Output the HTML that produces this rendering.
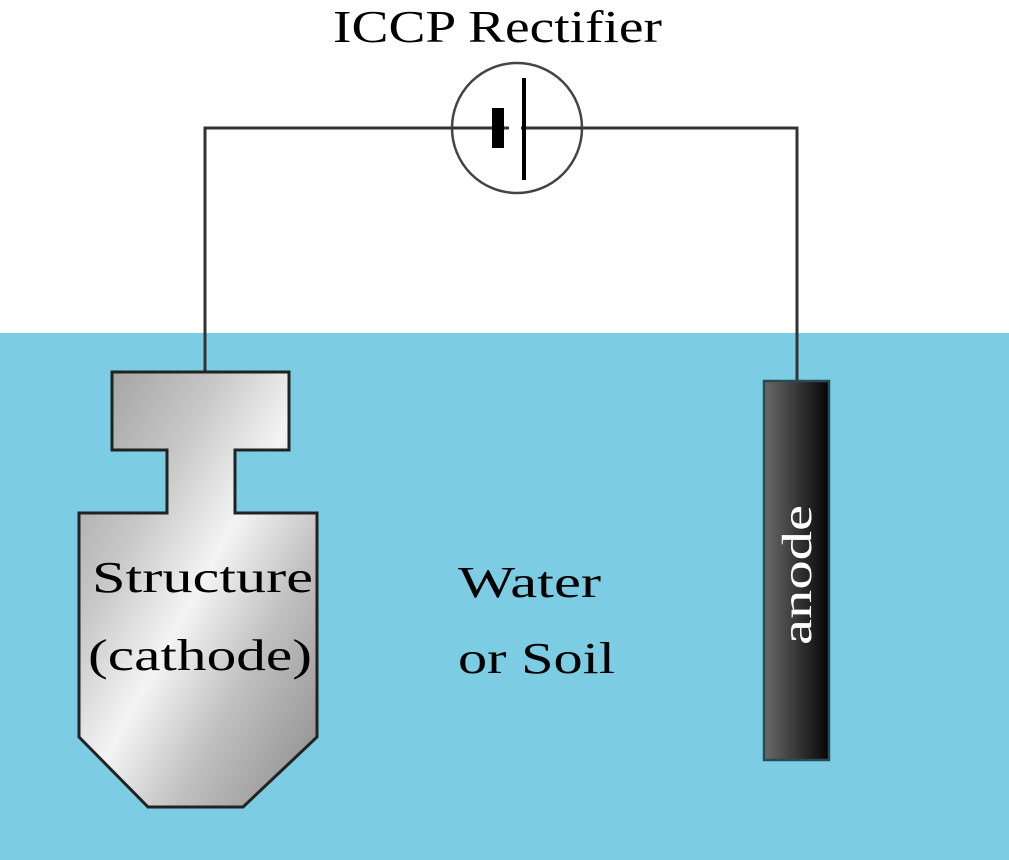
<!DOCTYPE html>
<html><head><meta charset="utf-8"><style>
html,body{margin:0;padding:0;background:#fff;}
svg{display:block}
text{font-family:"Liberation Serif","DejaVu Serif",serif;}
</style></head><body>
<svg width="1009" height="860" viewBox="0 0 1009 860" xmlns="http://www.w3.org/2000/svg">
<defs>
<linearGradient id="metal" x1="0" y1="0" x2="1" y2="1" gradientUnits="objectBoundingBox">
<stop offset="0" stop-color="#9a9a9a"/>
<stop offset="0.3" stop-color="#c8c8c8"/>
<stop offset="0.5" stop-color="#f4f4f4"/>
<stop offset="0.7" stop-color="#c0c0c0"/>
<stop offset="1" stop-color="#8a8a8a"/>
</linearGradient>
<linearGradient id="dark" x1="0" y1="0" x2="1" y2="0">
<stop offset="0" stop-color="#6a6a6a"/>
<stop offset="1" stop-color="#050505"/>
</linearGradient>
</defs>
<rect x="0" y="0" width="1009" height="860" fill="#fff"/>
<rect x="0" y="333" width="1009" height="527" fill="#7ccde3"/>
<polyline points="205,372 205,128 452,128" fill="none" stroke="#333" stroke-width="3"/>
<polyline points="582,128 797,128 797,381" fill="none" stroke="#333" stroke-width="3"/>
<circle cx="517" cy="128" r="65" fill="none" stroke="#444" stroke-width="2.5"/>
<line x1="452" y1="128" x2="582" y2="128" stroke="#333" stroke-width="3"/>
<rect x="492" y="108" width="12" height="40" fill="#000"/>
<line x1="524" y1="78" x2="524" y2="180" stroke="#000" stroke-width="4"/>
<line x1="509" y1="128" x2="521" y2="128" stroke="#fff" stroke-width="3"/>
<text x="333" y="42" font-size="46" textLength="329" lengthAdjust="spacingAndGlyphs" fill="#000">ICCP Rectifier</text>
<path d="M112,372 H289 V450 H235 V513 H317 V737 L243,807 H148 L79,737 V513 H167 V450 H112 Z" fill="url(#metal)" stroke="#222" stroke-width="3"/>
<text x="92" y="592" font-size="44" textLength="221" lengthAdjust="spacingAndGlyphs" fill="#000">Structure</text>
<text x="88" y="670" font-size="44" textLength="224" lengthAdjust="spacingAndGlyphs" fill="#000">(cathode)</text>
<text x="458" y="597" font-size="44" textLength="143" lengthAdjust="spacingAndGlyphs" fill="#000">Water</text>
<text x="458" y="673" font-size="44" textLength="157" lengthAdjust="spacingAndGlyphs" fill="#000">or Soil</text>
<rect x="764" y="381" width="65" height="379" fill="url(#dark)" stroke="#2a4a55" stroke-width="2.5"/>
<text transform="translate(811,645) rotate(-90)" font-size="42" textLength="140" lengthAdjust="spacingAndGlyphs" fill="#fff">anode</text>
</svg>
</body></html>
